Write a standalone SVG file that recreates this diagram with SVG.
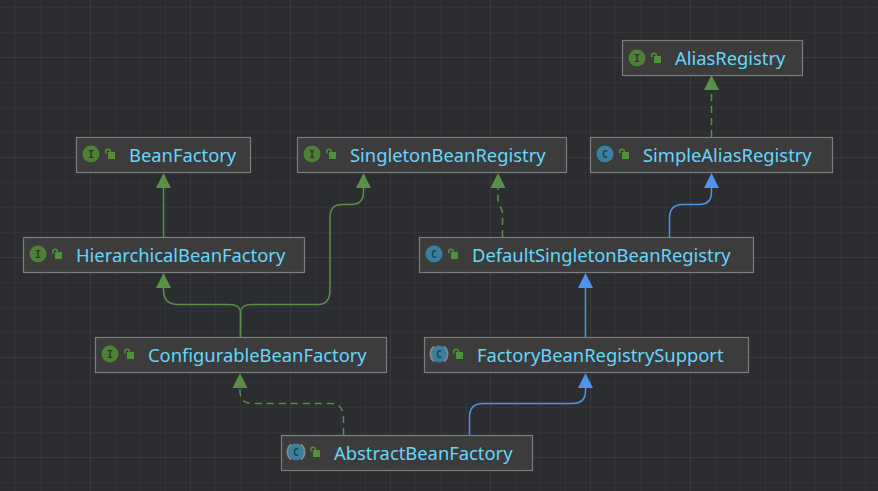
<svg xmlns="http://www.w3.org/2000/svg" width="878" height="491" viewBox="0 0 878 491">
<style>
.box{fill:#3c3c3c;stroke:#7d7d7d;stroke-width:1.2}
.t{font-family:"Noto Sans","Open Sans",sans-serif;font-size:18.35px;fill:#66d6fd}
.g1{stroke:#323439;stroke-width:1;fill:none}
.g2{stroke:#3b3c40;stroke-width:1;fill:none}
.e{fill:none;stroke-width:1.5}
.gr{stroke:#5a8f4a}
.bl{stroke:#4f94ea}
.d{stroke-dasharray:7 5}
.ag{fill:#5a8f4a}
.ab{fill:#4f94ea}
.ci{fill:#4e8036}
.cc{fill:#39809e}
.l{font-family:"DejaVu Sans Mono",monospace;font-size:10px;font-weight:bold;text-anchor:middle;fill:#2b3a2b}
.lock{fill:#4f9136}
.sh{fill:none;stroke:#4f9136;stroke-width:1.5}
.ab2{fill:none;stroke:#8a8a8a;stroke-width:1.6}
</style>
<defs>
<g id="lk"><rect x="3" y="-3" width="7" height="7" class="lock"/><path d="M0.800 -1.500V-3.500a2.300 2.300 0 0 1 4.600 0V-3" class="sh"/></g>
<g id="I"><circle r="8.500" class="ci"/><text y="3.500" class="l">I</text></g>
<g id="C"><circle r="8.500" class="cc"/><text y="3.500" class="l" style="fill:#24414f">C</text></g>
<g id="CA"><circle r="8.500" class="cc"/><path d="M-5-7.500A9.500 9.500 0 0 0-5 7.500M5-7.500A9.500 9.500 0 0 1 5 7.500" class="ab2"/><text y="3.500" class="l" style="fill:#24414f">C</text></g>
</defs>
<rect width="878" height="491" fill="#2b2d31"/>
<path class="g1" d="M15.500 0V491M40.500 0V491M65.500 0V491M115.500 0V491M140.500 0V491M165.500 0V491M215.500 0V491M240.500 0V491M265.500 0V491M315.500 0V491M340.500 0V491M365.500 0V491M415.500 0V491M440.500 0V491M465.500 0V491M515.500 0V491M540.500 0V491M565.500 0V491M615.500 0V491M640.500 0V491M665.500 0V491M715.500 0V491M740.500 0V491M765.500 0V491M815.500 0V491M840.500 0V491M865.500 0V491M0 7.500H878M0 32.500H878M0 82.500H878M0 107.500H878M0 132.500H878M0 182.500H878M0 207.500H878M0 232.500H878M0 282.500H878M0 307.500H878M0 332.500H878M0 382.500H878M0 407.500H878M0 432.500H878M0 482.500H878"/>
<path class="g2" d="M90.500 0V491M190.500 0V491M290.500 0V491M390.500 0V491M490.500 0V491M590.500 0V491M690.500 0V491M790.500 0V491M0 57.500H878M0 157.500H878M0 257.500H878M0 357.500H878M0 457.500H878"/>
<g id="connectors">
<path class="e gr" d="M163.500 237V185"/><path class="ag" d="M163.500 173l7.500 15h-15z"/>
<path class="e gr" d="M240.500 337V312C240 306 236 304.500 229 304.500H178C168 304.500 163.500 300 163.500 290V285"/><path class="ag" d="M163.500 273l7.500 15h-15z"/>
<path class="e gr" d="M240.500 337V312C241 306 245 304.500 252 304.500H318C326 304.500 330 300 330 290V218C330 208 334 204.500 343 204.500H351C359 204.500 363.500 200 363.500 192V185"/><path class="ag" d="M363.500 173l7.500 15h-15z"/>
<path class="e gr d" d="M343.500 435V417C343.500 408 339 403.500 330 403.500H253C244 403.500 240 399 240 391V385"/><path class="ag" d="M240 373l7.500 15h-15z"/>
<path class="e gr d" d="M502.500 237V215C502.500 207 498 205 498 198V187"/><path class="ag" d="M498 173l7.500 15h-15z"/>
<path class="e gr d" d="M711.500 137V85"/><path class="ag" d="M711.500 75l7.500 15h-15z"/>
<path class="e bl" d="M669.500 237V218C669.500 209 674 204.500 683 204.500H699C707 204.500 711.500 200 711.500 192V185"/><path class="ab" d="M711.500 173l7.500 15h-15z"/>
<path class="e bl" d="M585.500 337V285"/><path class="ab" d="M585.500 273l7.500 15h-15z"/>
<path class="e bl" d="M469.500 435V417C469.500 408 474 403.500 483 403.500H572C581 403.500 585.500 399 585.500 391V385"/><path class="ab" d="M585.500 373l7.500 15h-15z"/>
</g>
<g id="AliasRegistry"><rect class="box" x="622.500" y="40.500" width="180" height="35"/><use href="#I" x="637" y="58"/><use href="#lk" x="651" y="59"/><text class="t" x="675" y="64.500">AliasRegistry</text></g>
<g id="BeanFactory"><rect class="box" x="76.500" y="137.500" width="174" height="35"/><use href="#I" x="91" y="154"/><use href="#lk" x="105" y="155"/><text class="t" x="129" y="161.500">BeanFactory</text></g>
<g id="SingletonBeanRegistry"><rect class="box" x="297.500" y="137.500" width="269" height="35"/><use href="#I" x="312" y="154"/><use href="#lk" x="326" y="155"/><text class="t" x="350" y="161.500">SingletonBeanRegistry</text></g>
<g id="SimpleAliasRegistry"><rect class="box" x="590.500" y="137.500" width="242" height="35"/><use href="#C" x="605" y="154"/><use href="#lk" x="619" y="155"/><text class="t" x="643" y="161.500">SimpleAliasRegistry</text></g>
<g id="HierarchicalBeanFactory"><rect class="box" x="23.500" y="237.500" width="281" height="35"/><use href="#I" x="38" y="254"/><use href="#lk" x="52" y="255"/><text class="t" x="76" y="261.500">HierarchicalBeanFactory</text></g>
<g id="DefaultSingletonBeanRegistry"><rect class="box" x="419.500" y="237.500" width="334" height="35"/><use href="#C" x="434" y="254"/><use href="#lk" x="448" y="255"/><text class="t" x="472" y="261.500">DefaultSingletonBeanRegistry</text></g>
<g id="ConfigurableBeanFactory"><rect class="box" x="95.500" y="337.500" width="291" height="35"/><use href="#I" x="110" y="354"/><use href="#lk" x="124" y="355"/><text class="t" x="148" y="361.500">ConfigurableBeanFactory</text></g>
<g id="FactoryBeanRegistrySupport"><rect class="box" x="424.500" y="337.500" width="324" height="35"/><use href="#CA" x="439" y="354"/><use href="#lk" x="453" y="355"/><text class="t" x="477" y="361.500">FactoryBeanRegistrySupport</text></g>
<g id="AbstractBeanFactory"><rect class="box" x="281.500" y="435.500" width="251" height="35"/><use href="#CA" x="296" y="452"/><use href="#lk" x="310" y="453"/><text class="t" x="334" y="459.500">AbstractBeanFactory</text></g>
</svg>
